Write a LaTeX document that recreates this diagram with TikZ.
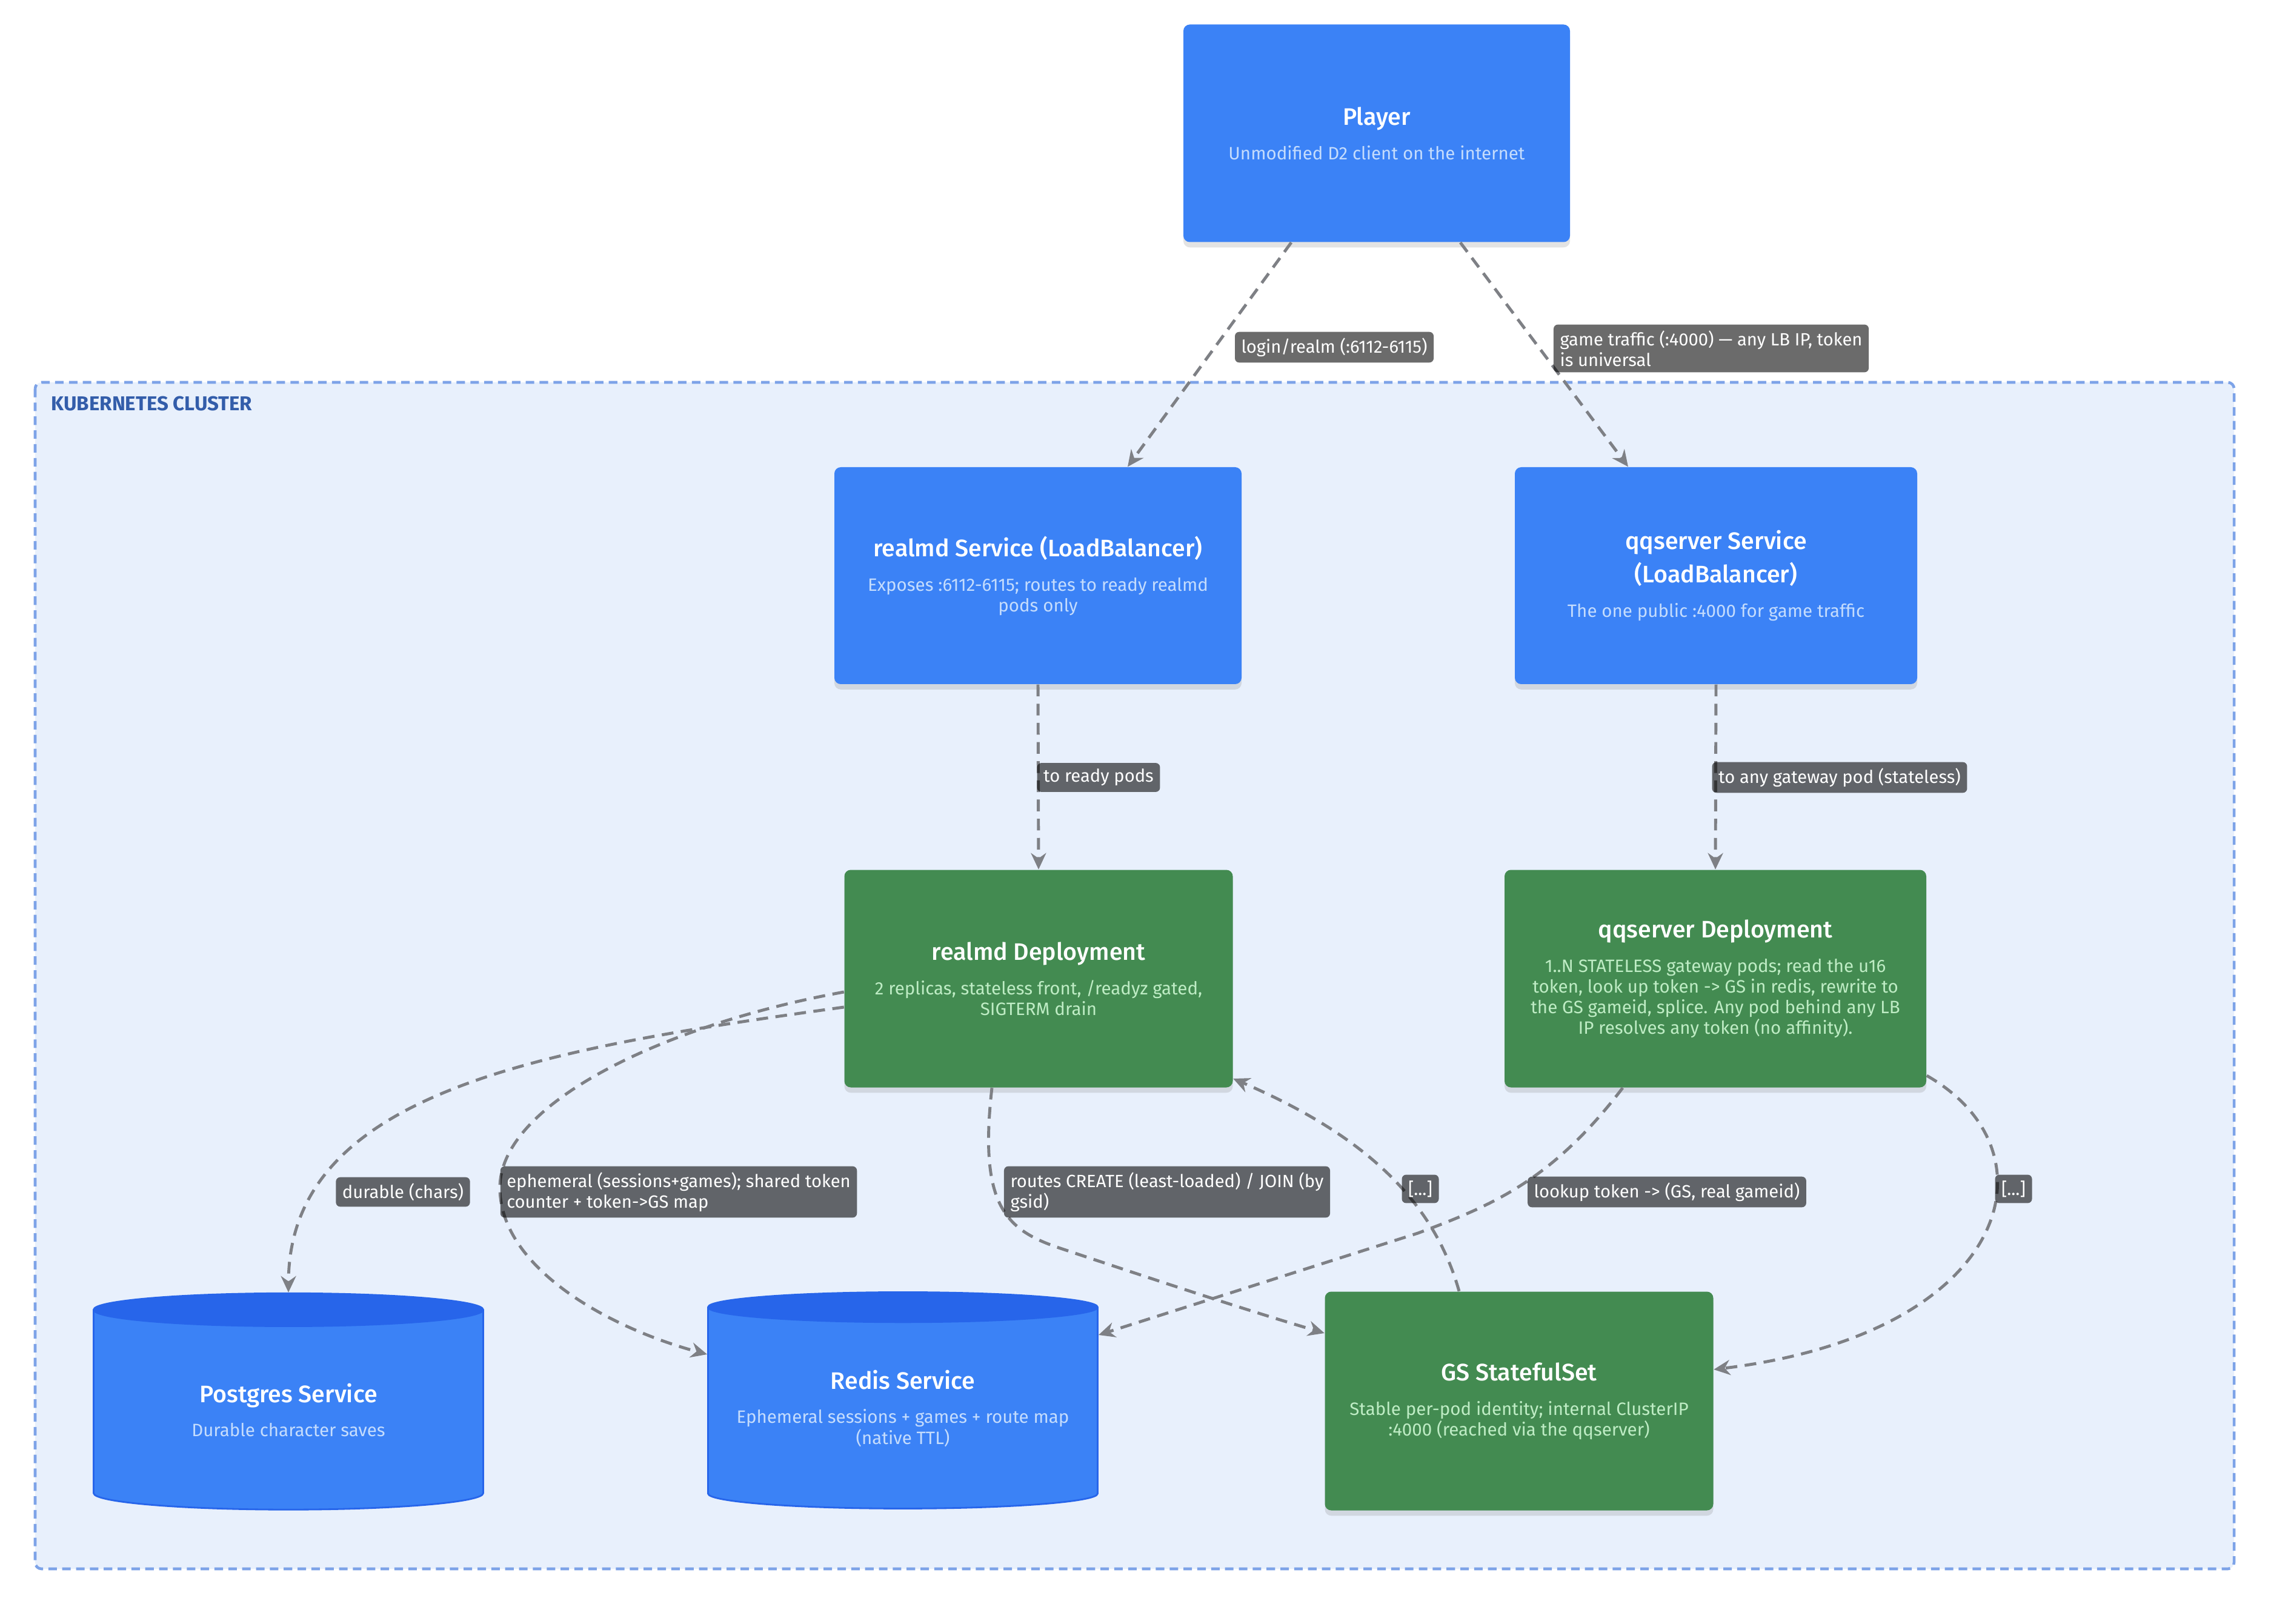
\documentclass[tikz,border=0pt]{standalone}
\usepackage{fontspec}
\setmainfont{Fira Sans}
\newfontfamily\kubtitlefont{Fira Sans Medium}
\usepackage{tikz}
\usetikzlibrary{arrows.meta,positioning,shapes.geometric,shadows}
\definecolor{kubblue}{RGB}{59,130,246}
\definecolor{kubbluetop}{RGB}{39,101,234}
\definecolor{kubbluesub}{RGB}{196,220,253}
\definecolor{kubgreen}{RGB}{67,139,81}
\definecolor{kubgreensub}{RGB}{190,236,196}
\definecolor{kubcluster}{RGB}{232,240,252}
\definecolor{kubclusterline}{RGB}{125,163,232}
\definecolor{kubclustertext}{RGB}{51,93,170}
\definecolor{kubedge}{RGB}{126,128,133}
\newcommand{\kubtitle}[1]{{\kubtitlefont\fontsize{11.2}{13}\selectfont\color{white}#1}}
\tikzset{
  kubnode/.style={
    rounded corners=3pt,
    align=center,
    inner sep=0pt,
    font=\fontsize{8.4}{9.7}\selectfont,
    drop shadow={shadow xshift=0pt,shadow yshift=-2.5pt,opacity=0.22}
  },
  kubsvc/.style={kubnode,fill=kubblue,text=kubbluesub},
  kubdeploy/.style={kubnode,fill=kubgreen,text=kubgreensub},
  kubstore/.style={shape=cylinder,shape border rotate=90,
    draw=kubbluetop,line width=0.8pt,
    cylinder uses custom fill,cylinder body fill=kubblue,cylinder end fill=kubbluetop,
    align=center,inner sep=0pt,text=kubbluesub,
    font=\fontsize{8.4}{9.7}\selectfont,
    minimum width=6.43cm,minimum height=3.57cm},
  kubclusterbox/.style={fill=kubcluster,draw=kubclusterline,line width=1.3pt,
    dash pattern=on 4pt off 2.5pt,rounded corners=3pt},
  kubclusterlabel/.style={font=\bfseries\fontsize{9.4}{11}\selectfont,text=kubclustertext,inner sep=0pt},
  kubflow/.style={-{Stealth[length=2.7mm,width=2.5mm]},line width=1.4pt,
    dash pattern=on 5.5pt off 3.5pt,draw=kubedge},
  kublabel/.style={fill=black,fill opacity=0.58,text opacity=1,text=white,
    rounded corners=2pt,inner xsep=3pt,inner ysep=2.8pt,align=left,
    font=\fontsize{8.3}{9.7}\selectfont}
}

\begin{document}
\begin{tikzpicture}[x=1cm,y=-1cm]
  \useasboundingbox[fill=white] (0,0) rectangle (37.76,26.80);

  % cluster frame
  \draw[kubclusterbox] (0.58,6.31) rectangle (36.87,25.89);
  \node[kubclusterlabel,anchor=west] (clustertitle) at (0.84,6.66) {KUBERNETES CLUSTER};

  % services and workloads
  \node[kubsvc,minimum width=6.38cm,minimum height=3.59cm] (player) at (22.72,2.20)
    {\kubtitle{Player}\\[6.5pt]Unmodified D2 client on the internet};
  \node[kubsvc,minimum width=6.72cm,minimum height=3.58cm] (realmdsvc) at (17.13,9.50)
    {\kubtitle{realmd Service (LoadBalancer)}\\[6.5pt]Exposes :6112-6115; routes to ready realmd\\pods only};
  \node[kubsvc,minimum width=6.64cm,minimum height=3.58cm] (qqsvc) at (28.32,9.50)
    {\kubtitle{qqserver Service}\\[2.5pt]\kubtitle{(LoadBalancer)}\\[6.5pt]The one public :4000 for game traffic};
  \node[kubdeploy,minimum width=6.41cm,minimum height=3.59cm] (realmddep) at (17.14,16.15)
    {\kubtitle{realmd Deployment}\\[6.5pt]2 replicas, stateless front, /readyz gated,\\SIGTERM drain};
  \node[kubdeploy,minimum width=6.96cm,minimum height=3.59cm] (qqdep) at (28.31,16.15)
    {\kubtitle{qqserver Deployment}\\[6.5pt]1..N STATELESS gateway pods; read the u16\\token, look up token -> GS in redis, rewrite to\\the GS gameid, splice. Any pod behind any LB\\IP resolves any token (no affinity).};
  \node[kubstore,aspect=0.17] (postgres) at (4.76,23.27)
    {\kubtitle{Postgres Service}\\[6.5pt]Durable character saves};
  \node[kubstore,aspect=0.09] (redis) at (14.90,23.24)
    {\kubtitle{Redis Service}\\[6.5pt]Ephemeral sessions + games + route map\\(native TTL)};
  \node[kubdeploy,minimum width=6.41cm,minimum height=3.61cm] (gs) at (25.07,23.12)
    {\kubtitle{GS StatefulSet}\\[6.5pt]Stable per-pod identity; internal ClusterIP\\:4000 (reached via the qqserver)};

  % connectors
  \draw[kubflow] (21.31,0 |- player.south) -- (18.61,0 |- realmdsvc.north);
  \draw[kubflow] (24.10,0 |- player.south) -- (26.87,0 |- qqsvc.north);
  \draw[kubflow] (realmdsvc.south) -- (realmddep.north);
  \draw[kubflow] (qqsvc.south) -- (qqdep.north);
  \draw[kubflow] (realmddep.west |- 0,16.62) .. controls (9.0,17.3) and (4.77,18.0) .. (postgres.north);
  \draw[kubflow] (realmddep.west |- 0,16.37) .. controls (11.0,16.9) and (8.25,18.2) .. (8.25,19.6)
    .. controls (8.25,20.9) and (10.0,21.9) .. (redis.west |- 0,22.35);
  \draw[kubflow] (16.37,0 |- realmddep.south) .. controls (16.15,19.9) and (16.6,20.3) .. (17.5,20.6)
    .. controls (19.0,21.1) and (20.5,21.6) .. (gs.west |- 0,22.0);
  \draw[kubflow] (24.08,0 |- gs.north) .. controls (23.6,19.6) and (22.2,18.6) .. (realmddep.east |- 0,17.80);
  \draw[kubflow] (26.78,0 |- qqdep.south) .. controls (25.6,19.5) and (24.6,19.9) .. (23.4,20.35)
    -- (redis.east |- 0,22.03);
  \draw[kubflow] (qqdep.east |- 0,17.75) .. controls (34.0,19.0) and (33.2,22.0) .. (gs.east |- 0,22.6);

  % connector labels
  \node[kublabel] (lbllogin) at (22.02,5.73) {login/realm (:6112-6115)};
  \node[kublabel] (lblgame) at (28.24,5.75) {game traffic (:4000) --- any LB IP, token\\is universal};
  \node[kublabel] (lblready) at (18.13,12.83) {to ready pods};
  \node[kublabel] (lblgateway) at (30.36,12.83) {to any gateway pod (stateless)};
  \node[kublabel] (lbldurable) at (6.65,19.67) {durable (chars)};
  \node[kublabel] (lblephemeral) at (11.20,19.67) {ephemeral (sessions+games); shared token\\counter + token->GS map};
  \node[kublabel] (lblroutes) at (19.26,19.67) {routes CREATE (least-loaded) / JOIN (by\\gsid)};
  \node[kublabel] (lblgsback) at (23.44,19.62) {[...]};
  \node[kublabel] (lbllookup) at (27.51,19.67) {lookup token -> (GS, real gameid)};
  \node[kublabel] (lblqqgs) at (33.23,19.62) {[...]};
\end{tikzpicture}
\end{document}
